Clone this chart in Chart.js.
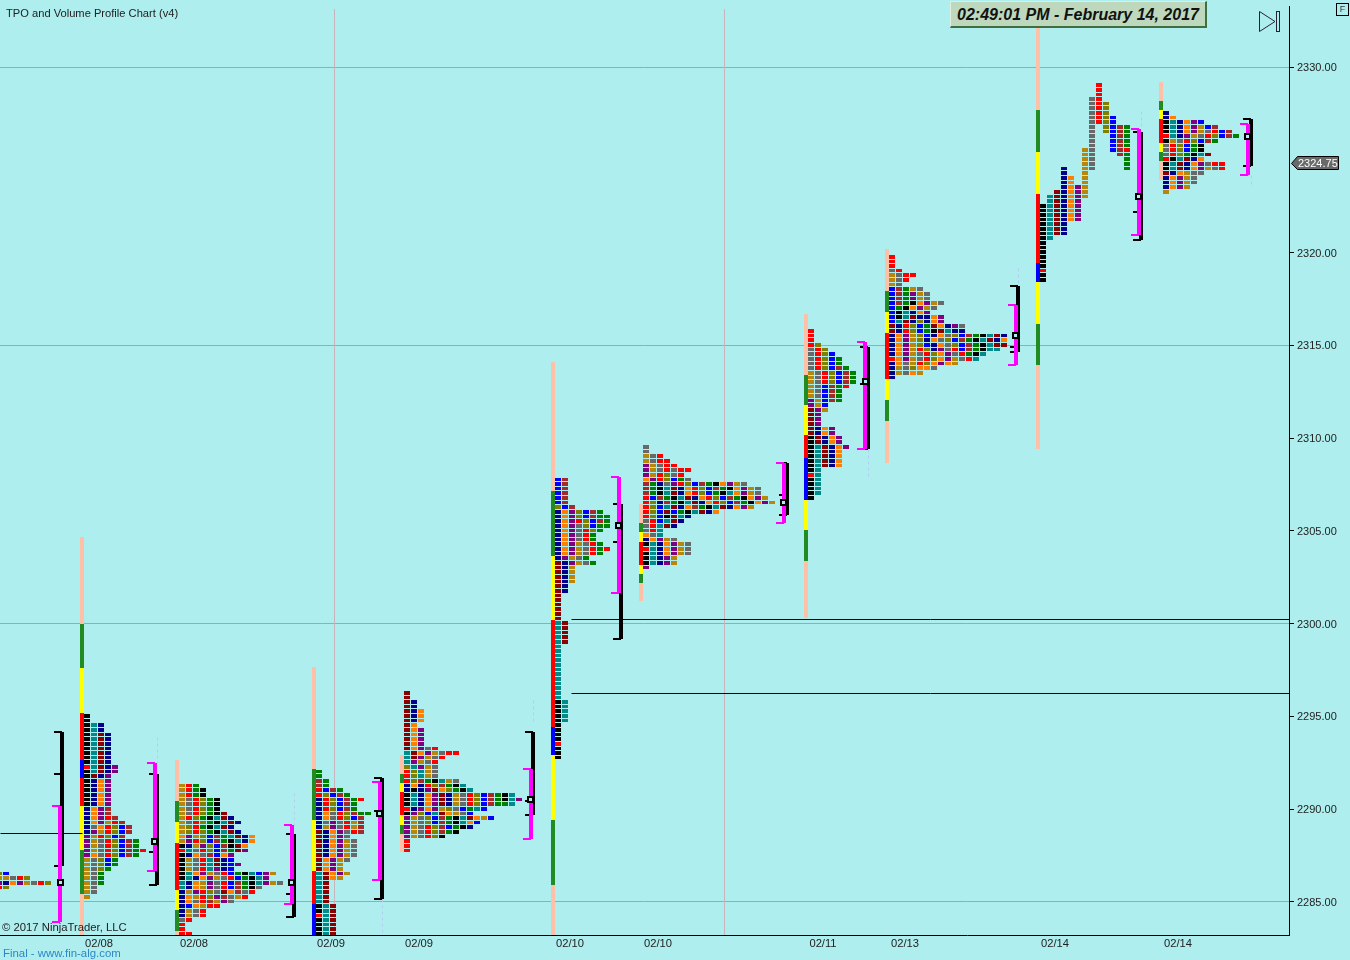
<!DOCTYPE html>
<html>
<head>
<meta charset="utf-8">
<title>TPO and Volume Profile Chart</title>
<script src="https://cdn.jsdelivr.net/npm/chart.js@4/dist/chart.umd.js"></script>
<style>
  html, body { margin: 0; padding: 0; background: #afeeee; }
  #wrap { position: relative; width: 1350px; height: 960px; overflow: hidden; font-family: "Liberation Sans", Arial, sans-serif; }
  #wrap canvas { position: absolute; left: 0; top: 0; }
  .label { position: absolute; white-space: nowrap; font-size: 11px; color: #222; }
  #clock { position: absolute; left: 950px; top: 1px; width: 254px; height: 24px; line-height: 25px; text-align: center;
           background: #bdd8bd; border-top: 1px solid #e0eee0; border-left: 1px solid #e0eee0;
           border-right: 2px solid #3f6f3f; border-bottom: 2px solid #3f6f3f;
           font-size: 16px; font-weight: bold; font-style: italic; color: #111; }
  #fbtn { position: absolute; left: 1336px; top: 3px; width: 11px; height: 11px; border: 1px solid #000; font-size: 9px; line-height: 11px; text-align: center; color: #333; }
</style>
</head>
<body>
<div id="wrap">
  <canvas id="tpoChart" width="1350" height="960"></canvas>
  <div class="label" style="left:6px;top:7px;font-size:11.15px">TPO and Volume Profile Chart (v4)</div>
  <div class="label" style="left:2px;top:921px;font-size:11.3px">&copy; 2017 NinjaTrader, LLC</div>
  <div class="label" style="left:3px;top:947px;font-size:11.4px;color:#2f86c8">Final - www.fin-alg.com</div>
  <div id="clock">02:49:01 PM - February 14, 2017</div>
  <svg style="position:absolute;left:1258px;top:10px" width="24" height="24">
    <path d="M1.5 1.5 L17 11.5 L1.5 21.5 Z" fill="none" stroke="#223" stroke-width="1"/>
    <rect x="18.5" y="1.5" width="3" height="20" fill="none" stroke="#223" stroke-width="1"/>
  </svg>
  <div id="fbtn">F</div>
</div>
<script>
// --- Axis data ---
const xTickSlots = [14.14, 27.71, 47.29, 59.86, 81.43, 94, 117.57, 129.29, 150.71, 168.29];
const xTickLabels = ['02/08', '02/08', '02/09', '02/09', '02/10', '02/10', '02/11', '02/13', '02/14', '02/14'];
const yTickPrices = [2285, 2290, 2295, 2300, 2305, 2310, 2315, 2320, 2330];
const yLinePrices = [2285, 2300, 2315, 2330];
const sessionLineSlots = [47.71, 103.43];
const lastPrice = 2324.75;

// --- TPO rows, top row first, one letter per letter block, '.' = empty ---
const rowsZ = ['lb', 'ggdrl', 'pnopgdrl', 'rl'];
const rowsA = ['k','k','ktn','ktn','ktmn','ktmn','ktmn','ktmn','ktmn','ktmn','ktmn','rtmnp','ktmnp','kmnp',
  'knop','knop','knop','knop','knop','knop','nopB','nopB','noprB','nopgrB','ndorlbB','npgrlbB','pgrlbB',
  'pgdrlbBG','pgdrlbBG','pgdrlbBGr','podrlbBG','gdlbG','gdlbG','gdlG','gdG','gdG','gdG','gd','gd','g'];
const rowsB = ['grG','grGk','grGk','gdrlGk','gdrlGk','gdrlGk','gdrlGkm','grlGktmn','gdrlGktmn','glrGktmn','glrlGktmn',
  'opglbBGtmno','gprlbBGktno','kngplbBkmo','rtdrlbBGmp','knodBbop','kgdrtmnb','kgdrtmnbp','kgdrtpnb',
  'ktopgdrbGktbpg','ktnopgdrbGktp','tnogpdrbBGktpgd','tnogpdrbBGkd','ngprldmoBdr','nogrlpBdgr','nodrBgpd',
  'nbogrr','ngdr','ngdr','dr','r','r','rr'];
const rowsC = ['G','G','BG','BG','rbBG','rlbBG','nrlbBGr','nrlbBG','nrlbBG','nodrlBGG','nodrlbB','ndpdrgB','ngpdrgB',
  'mnopdrB','mnopd','mnopgd','mnopgd','mnopgd','mnopgd','mopgd','mopg','mopg','tmopg','tmog','tm','tm','tm','tm','tm',
  'ktm','ktm','rtm','ktm','ktm','ktm','ktm'];
const rowsD = ['m','m','mn','mn','mno','mno','mno','mo','mop','mop','mop','mop','mopdr','tmopgdrr','tmpgdr','tpgdr',
  'ltpgd','rltgd','rltgd','rlBGktgd','nonrlBGkt','nknpmolGkt','ktnopmngdrlbBGkt','ktnopmngdrlbBGktp','ktnopmngdrlbBGGt',
  'rnpopgldbGtb','kplbtmogdb','pgdlbBGktmogb','pgdlbBGktob','pgdrlBbGkn','pgdrlBGk','pgdrlk','r','r','r'];
const rowsE = ['bB','bB','bB','bB','bB','bB','lbB','noplbBG','noplbBGG','noprlbBG','nopdlbGG','nopdrlG','nopdrG','nopdrG',
  'nopgdrG','nopgdrGr','nopgdrG','npgdG','mnpgdG','mng','mng','mng','mng','mn','mn','m','m','m','m','m','m',
  'tm','tm','tm','tm','tm','t','t','t','t','t','t','t','t','t','t','t','t',
  'kt','kt','kt','kt','kt','k','k','k','k','r','k','k','k'];
const rowsF = ['d','d','gdr','gdrr','pgdrr','pgdrdrr','pgrldr','oprlbGd','BGndprlbBGkopgd','BGktmnorlbBGkopgd','BGktmnorlbGktopgd',
  'rbBGktmnorlbBGkopg','rlnBGktmnorlbBGkopg','rlbtmnoBGktmnopg','rlbmbGktmno','rlbkmtn','drbtmn','drtmn','drt','odt',
  'nopgd','ktnopgd','rtnopgd','ktnopgd','ktnpg','ktnpg','p'];
const rowsG = ['r','r','r','rl','drl','drlb','drlbG','drlbG','drlbBG','gdrlbBG','gdrlbBG','gdrlbBG','gdbBGr','gdbBG','gdbBG','pgbBG',
  'pgb','mpg','mp','mp','mp','mnop','mnop','kmnop','kmnop','ktmnop','ktmno','ktmno','ktmno','ktmno','kt','rt','kt','kt','kt','kt','k'];
const rowsH = ['r','r','r','dr','gdrr','gdr','gd','bBGgd','bBGpgd','bBGpgd','bBGkopgd','bGkopgd','bktnop','bktmnnop','btmnlnop',
  'mnrlbGmonpd','mnrlbGkmtnn','nopglbnodlbBGktmn','nopglnodlbBGktmno','nopglbnodlbBGktmm','nopgrlnpdrbBGktt','nopgdrlopdrGkt',
  'ropgdrlopgdrt','nodgrlopog','ngdlood','ngdog','n'];
const rowsI = ['........r','........r','........r','.......dr','.......drl','.......drl','.......drl','.......drlb','.......drlb',
  '.......d.lbBG','.......d.lbBG','.......d..bBG','.......d..bBG','.......d..bBG','......gd..bBr','......gd...BG','......gd....G','......gd....G',
  '...n..gd....G','...n..g','...no.g','...no.g','...nopg','..mnopg','.tmnopg','.tmnop','ktmnop','ktmnop','ktmnop','ktmnop',
  'ktmn','ktmn','ktmn','kt','k','k','k','k','k','k','r','k','k'];
const rowsJ = ['n','no','ktnopb','ktnopgbB','ktnopgdrbB','rtnpgdrlbBG','kgdrlbBG','drlbGk','drlbGk','drlGktm','rktmno',
  'ktmnopdrr','ktmnopgdr','mnogdd','nopgd','nopgd','nopg','g'];

// top price of each profile and its first column
const profileNames = ['Z', 'A', 'B', 'C', 'D', 'E', 'F', 'G', 'H', 'I', 'J'];
const profileRows = [rowsZ, rowsA, rowsB, rowsC, rowsD, rowsE, rowsF, rowsG, rowsH, rowsI, rowsJ];
const profileTops = [2286.5, 2295, 2291.25, 2292, 2296.25, 2307.75, 2309.5, 2315.75, 2319.75, 2329, 2327.5];
const profileSlots = [-0.57, 12, 25.57, 45.14, 57.71, 79.29, 91.86, 115.43, 127, 148.57, 166.14];

// --- Period bars left of each profile: edge prices, and the colours between them ---
const barEdgesA = [2304.67, 2299.98, 2297.61, 2295.19, 2292.65, 2291.68, 2290.18, 2287.80, 2285.43, 2283.22];
const barEdgesB = [2292.65, 2290.44, 2289.31, 2288.18, 2285.65, 2284.57, 2283.44, 2283.22];
const barEdgesC = [2297.67, 2292.17, 2289.42, 2286.67, 2284.89, 2283.22];
const barEdgesD = [2292.92, 2291.90, 2291.41, 2290.93, 2289.69, 2289.15, 2288.67, 2287.70];
const barEdgesE = [2314.10, 2307.15, 2303.65, 2300.20, 2294.43, 2292.92, 2289.42, 2285.92, 2283.22];
const barEdgesF = [2306.45, 2305.43, 2304.94, 2304.40, 2303.16, 2302.68, 2302.19, 2301.22];
const barEdgesG = [2316.69, 2313.40, 2311.79, 2310.17, 2308.93, 2306.67, 2305.05, 2303.38, 2300.31];
const barEdgesH = [2320.19, 2317.93, 2316.80, 2315.67, 2313.19, 2312.05, 2310.92, 2308.66];
const barEdgesI = [2332.16, 2327.68, 2325.42, 2323.16, 2319.44, 2318.41, 2316.15, 2313.94, 2309.41];
const barEdgesJ = [2329.19, 2328.17, 2327.68, 2327.20, 2325.90, 2325.42, 2324.93, 2323.91];
const barSlots = [11.71, 25.29, 44.86, 57.43, 79, 91.57, 115.14, 126.71, 148.29, 165.86];
const barEdges = [barEdgesA, barEdgesB, barEdgesC, barEdgesD, barEdgesE, barEdgesF, barEdgesG, barEdgesH, barEdgesI, barEdgesJ];
const barCodes = ['sGyrbryGs', 'sGyryGs', 'sGyrb', 'sGyryGs', 'sGyrbyGs', 'sGyryGs', 'sGyrbyGs', 'sGyryGs', 'sGyrbyGs', 'sGyryGs'];

// --- Value area brackets ---
const blackSlots = [8.86, 22.43, 42, 54.57, 76.14, 88.71, 112.43, 124, 145.43, 163, 178.71];
const blackTops = [2294.16, 2291.90, 2288.67, 2291.68, 2294.16, 2306.45, 2308.66, 2314.91, 2318.20, 2326.50, 2327.20];
const blackBottoms = [2286.94, 2285.92, 2284.19, 2285.16, 2289.69, 2299.17, 2305.86, 2309.41, 2314.64, 2320.68, 2324.66];
const blackMids = [2291.90, 2287.70, 2285.43, 2289.91, 2290.44, 2304.40, 2306.94, 2312.92, 2314.91, 2322.19, 2324.66];
const pinkSlots = [8.57, 22.14, 41.71, 54.29, 75.86, 88.43, 112, 123.57, 145.14, 162.71, 178.29];
const pinkTops = [2290.18, 2292.49, 2289.15, 2291.47, 2292.17, 2307.91, 2308.66, 2315.18, 2317.17, 2326.66, 2326.93];
const pinkBottoms = [2283.92, 2286.67, 2284.89, 2286.19, 2288.40, 2301.65, 2305.43, 2309.41, 2313.94, 2320.95, 2324.18];
const pocSlots = [8.57, 22, 41.57, 54.14, 75.71, 88.29, 111.86, 123.57, 145, 162.57, 178.14];
const pocPrices = [2286.08, 2288.29, 2286.08, 2289.80, 2290.55, 2305.32, 2306.56, 2313.08, 2315.56, 2323.05, 2326.28];

// --- Faint dashed wicks above/below the brackets ---
const wickSlots = [22.43, 42, 54.57, 76.14, 124, 145.43, 163, 178.71];
const wickFrom = [2293.89, 2290.88, 2285.16, 2295.89, 2309.41, 2319.17, 2327.63, 2324.18];
const wickTo = [2292.49, 2289.15, 2283.22, 2294.65, 2307.91, 2318.20, 2326.66, 2323.69];

// --- Naked POC lines: price, first slot, last slot ---
const levelPrices = [2288.7, 2300.25, 2296.25];
const levelFrom = [0, 81.57, 81.57];
const levelTo = [11.71, 184.14, 184.14];

// --- Colours ---
const cellColors = { k: '#000000', t: '#008b8b', n: '#00008b', m: '#8b0000', p: '#800080', o: '#ff8000', g: '#b8860b',
                     d: '#696969', r: '#ff0000', l: '#808000', b: '#0000ff', B: '#a52a2a', G: '#008000' };
const barColors = { s: '#ffc0a8', G: '#228b22', y: '#ffff00', r: '#ff0000', b: '#0000ff' };

const xMin = 0, xMax = 184.14, yMin = 2283.22, yMax = 2333.29;
const cellWidth = 6 / 7, tickSize = 0.25, wingLength = 8 / 7;

function lineSet(points, color, width, order, extra) {
    return Object.assign({ type: 'line', data: points, borderColor: color, borderWidth: width, pointRadius: 0,
        borderCapStyle: 'butt', tension: 0, fill: false, order: order }, extra || {});
}

const datasets = [];

// 1. TPO cells, as floating horizontal bars
profileRows.forEach((rows, p) => {
    const data = [], colors = [];
    rows.forEach((row, r) => {
        [...row].forEach((c, i) => {
            if (c === '.') return;
            data.push({ x: [profileSlots[p] + i, profileSlots[p] + i + cellWidth], y: profileTops[p] - r * tickSize });
            colors.push(cellColors[c]);
        });
    });
    datasets.push({ type: 'bar', label: 'Profile ' + profileNames[p], indexAxis: 'y', data: data, backgroundColor: colors,
        barThickness: 4, inflateAmount: 0, grouped: false, borderWidth: 0, order: 5 });
});

// 2. Period bars, colour changes per segment
barEdges.forEach((edges, b) => {
    datasets.push(lineSet(edges.map(v => ({ x: barSlots[b], y: v })), barColors.s, 4, 6, {
        segment: { borderColor: ctx => barColors[barCodes[b][ctx.p0DataIndex]] }
    }));
});

// 3. Brackets
function addBracket(slot, top, bottom, marks, color, order) {
    datasets.push(lineSet([{ x: slot, y: top }, { x: slot, y: bottom }], color, 4, order));
    marks.forEach(v => {
        datasets.push(lineSet([{ x: slot - wingLength, y: v }, { x: slot, y: v }], color, 2, order));
    });
}
blackSlots.forEach((s, i) => addBracket(s, blackTops[i], blackBottoms[i], [blackTops[i], blackMids[i], blackBottoms[i]], '#000000', 3));
pinkSlots.forEach((s, i) => addBracket(s, pinkTops[i], pinkBottoms[i], [pinkTops[i], pinkBottoms[i]], '#ff00ff', 2));

// 4. POC squares
datasets.push({ type: 'line', showLine: false, borderWidth: 1, data: pocSlots.map((s, i) => ({ x: s, y: pocPrices[i] })), pointStyle: 'rect',
    pointRadius: 3.54, pointBorderWidth: 2, pointBorderColor: '#000000', pointBackgroundColor: '#afeeee', order: 1 });

// 5. Wicks, levels and session lines
wickSlots.forEach((s, i) => {
    datasets.push(lineSet([{ x: s, y: wickFrom[i] }, { x: s, y: wickTo[i] }], '#b4cdf0', 1, 7, { borderDash: [3, 3] }));
});
levelPrices.forEach((v, i) => {
    datasets.push(lineSet([{ x: levelFrom[i], y: v }, { x: levelTo[i], y: v }], '#00003c', 1, 4));
});
sessionLineSlots.forEach(s => {
    datasets.push(lineSet([{ x: s, y: yMax - 0.16 }, { x: s, y: yMin }], '#c8b4ba', 1, 9));
});

// rounds every element to whole pixels, the reference has no anti-aliased blocks
const crispPixels = {
    id: 'crispPixels',
    afterDatasetsUpdate(chart) {
        const yScale = chart.scales.y;
        const halfRow = Math.abs(yScale.getPixelForValue(yMin + tickSize / 2) - yScale.getPixelForValue(yMin));
        chart.getSortedVisibleDatasetMetas().forEach(meta => {
            const odd = meta.type === 'line' && chart.data.datasets[meta.index].borderWidth % 2 === 1 ? 0.5 : 0;
            meta.data.forEach(el => {
                if (meta.type === 'bar') {
                    // rows are 3 or 4 pixels tall with a 1 pixel gap
                    const top = Math.round(el.y - halfRow), bottom = Math.round(el.y + halfRow) - 1;
                    el.y = (top + bottom) / 2;
                    el.height = bottom - top;
                    el.x = Math.round(el.x);
                    el.base = Math.round(el.base);
                } else {
                    el.x = Math.round(el.x) + odd;
                    el.y = Math.round(el.y) + odd;
                }
            });
        });
    }
};

// grey price tag at the last price on the right axis
const lastPriceTag = {
    id: 'lastPriceTag',
    afterDraw(chart) {
        const c = chart.ctx, right = chart.chartArea.right;
        const y = Math.round(chart.scales.y.getPixelForValue(lastPrice)) - 1;
        c.save();
        c.beginPath();
        c.moveTo(right + 2.5, y + 0.5);
        c.lineTo(right + 8.5, y - 6.5);
        c.lineTo(right + 49.5, y - 6.5);
        c.lineTo(right + 49.5, y + 6.5);
        c.lineTo(right + 8.5, y + 6.5);
        c.closePath();
        c.fillStyle = '#696969';
        c.fill();
        c.lineWidth = 1;
        c.strokeStyle = '#000';
        c.stroke();
        c.fillStyle = '#fff';
        c.font = '11px "Liberation Sans", Arial, sans-serif';
        c.textAlign = 'left';
        c.textBaseline = 'middle';
        c.fillText(lastPrice.toFixed(2), right + 9, y + 1);
        c.restore();
    }
};

function noPadding(scale) {
    scale.paddingLeft = 0;
    scale.paddingRight = 0;
    scale.paddingTop = 0;
    scale.paddingBottom = 0;
}

new Chart(document.getElementById('tpoChart'), {
    type: 'bar',
    data: { datasets: datasets },
    plugins: [crispPixels, lastPriceTag],
    options: {
        responsive: false,
        animation: false,
        events: [],
        layout: { autoPadding: false, padding: { top: 6, right: 0, left: 0, bottom: 0 } },
        plugins: { legend: { display: false }, tooltip: { enabled: false }, title: { display: false } },
        scales: {
            x: {
                type: 'linear', position: 'bottom', min: xMin, max: xMax, offset: false, beginAtZero: false,
                grid: { display: false, offset: false, drawTicks: false },
                border: { color: '#000', width: 1 },
                afterBuildTicks: scale => { scale.ticks = xTickSlots.map(v => ({ value: v })); },
                afterFit: scale => { scale.height = 25; noPadding(scale); },
                ticks: {
                    autoSkip: false, maxRotation: 0, minRotation: 0, padding: 2, color: '#222',
                    font: { family: '"Liberation Sans", Arial, sans-serif', size: 11.2 },
                    callback: (v, i) => xTickLabels[i]
                }
            },
            y: {
                type: 'linear', position: 'right', min: yMin, max: yMax, offset: false,
                grid: {
                    offset: false,
                    color: ctx => yLinePrices.includes(ctx.tick && ctx.tick.value) ? '#a8a4a8' : 'rgba(0,0,0,0)',
                    tickColor: '#000', tickLength: 5
                },
                border: { color: '#000', width: 1 },
                afterBuildTicks: scale => { scale.ticks = yTickPrices.map(v => ({ value: v })); },
                afterFit: scale => { scale.width = 61; noPadding(scale); },
                ticks: {
                    autoSkip: false, padding: 3, color: '#222', labelOffset: 1,
                    font: { family: '"Liberation Sans", Arial, sans-serif', size: 11 },
                    callback: v => v.toFixed(2)
                }
            }
        }
    }
});
</script>
</body>
</html>
